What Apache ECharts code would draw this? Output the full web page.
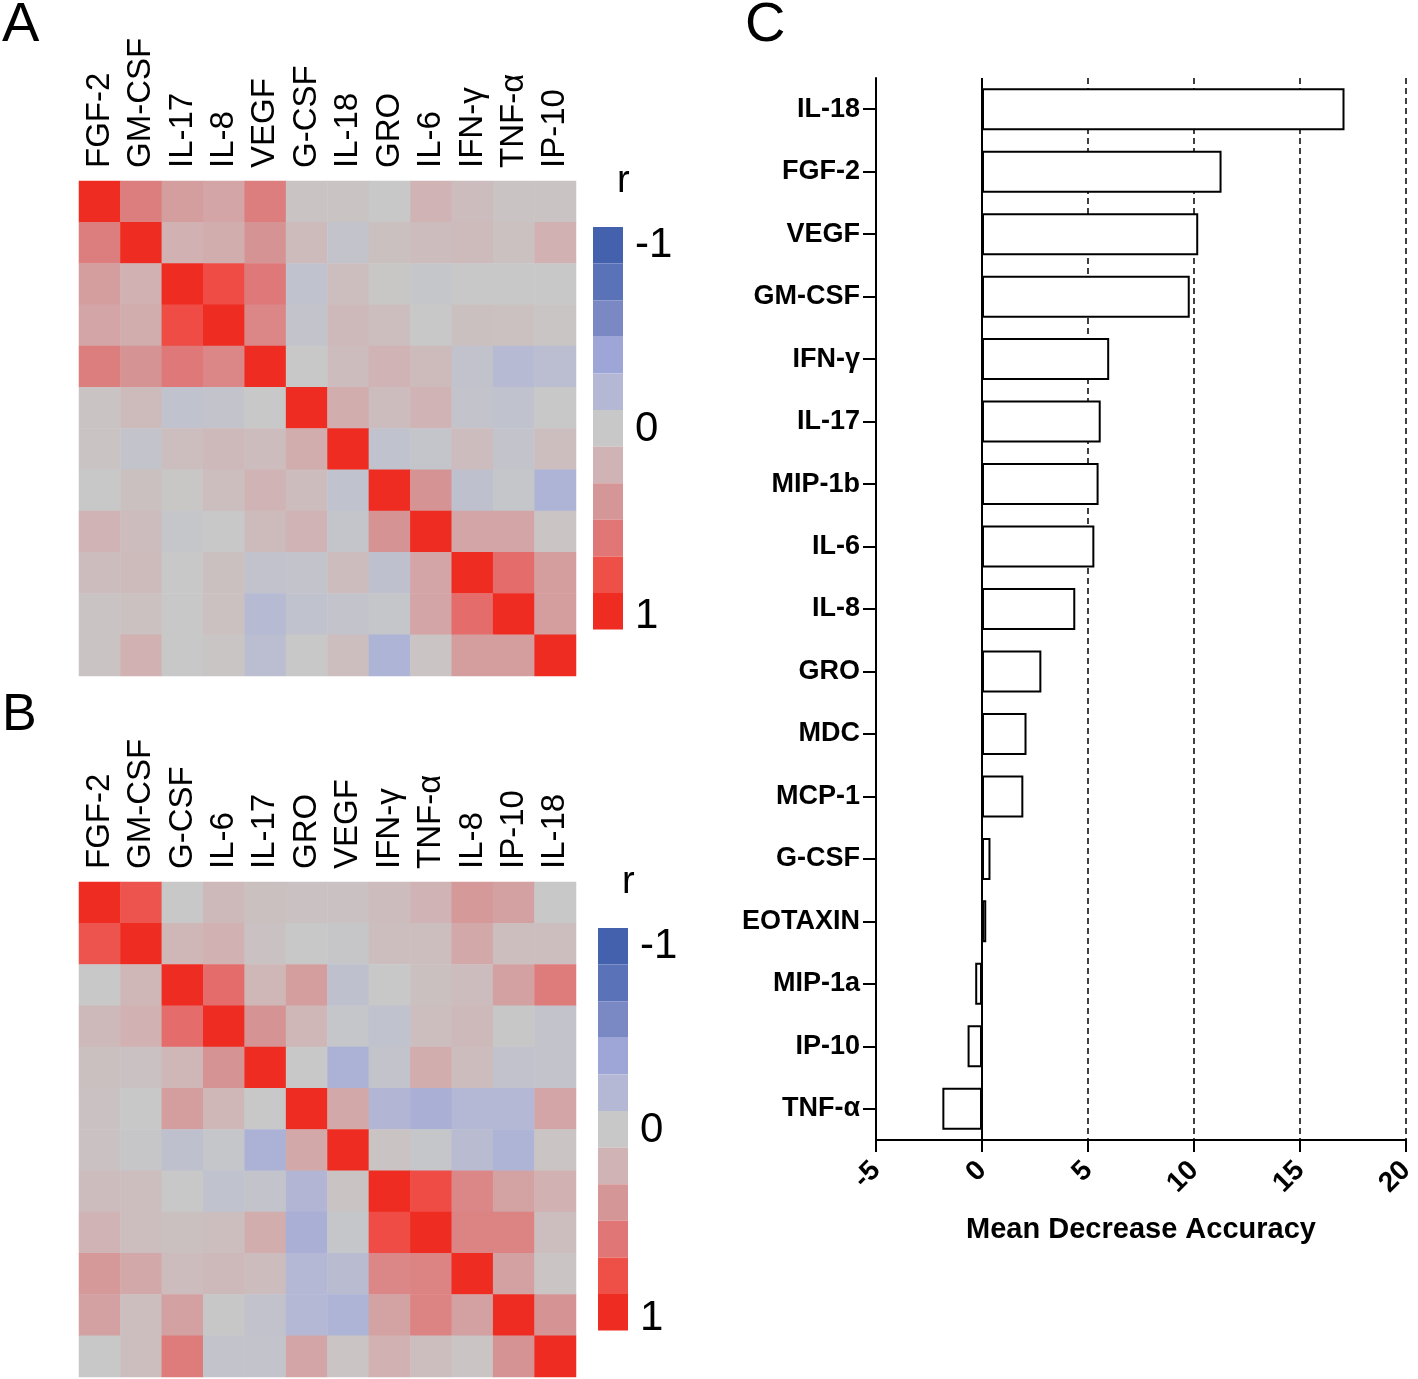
<!DOCTYPE html>
<html>
<head>
<meta charset="utf-8">
<script src="https://cdn.jsdelivr.net/npm/echarts@6/dist/echarts.min.js"></script>
<style>
html,body{margin:0;padding:0;background:#fff;}
#chart{width:1418px;height:1379px;}
</style>
</head>
<body>
<div id="chart"></div>
<script>
// ---------- Data ----------
const labelsA = ['FGF-2','GM-CSF','IL-17','IL-8','VEGF','G-CSF','IL-18','GRO','IL-6','IFN-γ','TNF-α','IP-10'];
const matrixA = [
  [1.00, 0.55, 0.35, 0.30, 0.55, 0.05, 0.05, 0.00, 0.20, 0.12, 0.05, 0.05],
  [0.55, 1.00, 0.22, 0.25, 0.42, 0.13,-0.05, 0.08, 0.12, 0.13, 0.07, 0.22],
  [0.35, 0.22, 1.00, 0.82, 0.58,-0.08, 0.10, 0.02,-0.03, 0.00, 0.00, 0.00],
  [0.30, 0.25, 0.82, 1.00, 0.50,-0.05, 0.15, 0.10, 0.00, 0.08, 0.07, 0.03],
  [0.55, 0.42, 0.58, 0.50, 1.00, 0.00, 0.12, 0.20, 0.13,-0.07,-0.18,-0.13],
  [0.05, 0.13,-0.08,-0.05, 0.00, 1.00, 0.25, 0.12, 0.20,-0.05,-0.08, 0.00],
  [0.05,-0.05, 0.10, 0.15, 0.12, 0.25, 1.00,-0.08,-0.04, 0.12,-0.05, 0.10],
  [0.00, 0.08, 0.02, 0.10, 0.20, 0.12,-0.08, 1.00, 0.42,-0.10,-0.03,-0.25],
  [0.20, 0.12,-0.03, 0.00, 0.13, 0.20,-0.04, 0.42, 1.00, 0.30, 0.30, 0.04],
  [0.12, 0.13, 0.00, 0.08,-0.07,-0.05, 0.12,-0.10, 0.30, 1.00, 0.65, 0.35],
  [0.05, 0.07, 0.00, 0.07,-0.18,-0.08,-0.05,-0.03, 0.30, 0.65, 1.00, 0.35],
  [0.05, 0.22, 0.00, 0.03,-0.13, 0.00, 0.10,-0.25, 0.04, 0.35, 0.35, 1.00]
];
const labelsB = ['FGF-2','GM-CSF','G-CSF','IL-6','IL-17','GRO','VEGF','IFN-γ','TNF-α','IL-8','IP-10','IL-18'];
const matrixB = [
  [1.00, 0.78, 0.00, 0.15, 0.08, 0.06, 0.06, 0.12, 0.20, 0.38, 0.33, 0.00],
  [0.78, 1.00, 0.18, 0.22, 0.06, 0.00,-0.02, 0.10, 0.10, 0.28, 0.10, 0.10],
  [0.00, 0.18, 1.00, 0.65, 0.18, 0.35,-0.10, 0.00, 0.08, 0.12, 0.33, 0.57],
  [0.15, 0.22, 0.65, 1.00, 0.42, 0.18,-0.03,-0.08, 0.10, 0.15, 0.01,-0.05],
  [0.08, 0.06, 0.18, 0.42, 1.00, 0.00,-0.27,-0.05, 0.25, 0.12,-0.07,-0.05],
  [0.06, 0.00, 0.35, 0.18, 0.00, 1.00, 0.28,-0.22,-0.30,-0.20,-0.20, 0.30],
  [0.06,-0.02,-0.10,-0.03,-0.27, 0.28, 1.00, 0.05,-0.03,-0.15,-0.25, 0.04],
  [0.12, 0.10, 0.00,-0.08,-0.05,-0.22, 0.05, 1.00, 0.82, 0.50, 0.32, 0.22],
  [0.20, 0.10, 0.08, 0.10, 0.25,-0.30,-0.03, 0.82, 1.00, 0.52, 0.52, 0.10],
  [0.38, 0.28, 0.12, 0.15, 0.12,-0.20,-0.15, 0.50, 0.52, 1.00, 0.33, 0.04],
  [0.33, 0.10, 0.33, 0.01,-0.07,-0.20,-0.25, 0.32, 0.52, 0.33, 1.00, 0.42],
  [0.00, 0.10, 0.57,-0.05,-0.05, 0.30, 0.04, 0.22, 0.10, 0.04, 0.42, 1.00]
];
const importanceLabels = ['IL-18','FGF-2','VEGF','GM-CSF','IFN-γ','IL-17','MIP-1b','IL-6','IL-8','GRO','MDC','MCP-1','G-CSF','EOTAXIN','MIP-1a','IP-10','TNF-α'];
const importanceValues = [17.1, 11.3, 10.2, 9.8, 6.0, 5.6, 5.5, 5.3, 4.4, 2.8, 2.1, 1.95, 0.4, 0.2, -0.32, -0.68, -1.87];
const xTicksC = [-5, 0, 5, 10, 15, 20];
const scaleValues = [-1,-0.8,-0.6,-0.4,-0.2,0,0.2,0.4,0.6,0.8,1];
const scaleColors = ['#4461AD','#5A72B7','#7A89C4','#9DA6D6','#B4B8D4','#C8C8C8','#D0B4B5','#D59697','#E07676','#EE5048','#EE2C22'];
const scaleTickLabels = ['-1','0','1'];

// ---------- Build ----------
const FONT = '"Liberation Sans", Arial, Helvetica, sans-serif';
function toCells(m){
  const out = [];
  m.forEach((row, r) => row.forEach((v, c) => out.push([c, r, v])));
  return out;
}
const pieces = scaleValues.map((v, i) => ({min: v - 0.1, max: v + 0.1, color: scaleColors[i]}));

const heatX = (labels, gi) => ({
  type:'category', gridIndex:gi, position:'top', data:labels,
  axisLine:{show:false}, axisTick:{show:false}, splitLine:{show:false},
  axisLabel:{rotate:-90, interval:0, fontSize:33, color:'#000', fontFamily:FONT, margin:13}
});
const heatY = (labels, gi) => ({
  type:'category', gridIndex:gi, data:labels, inverse:true,
  axisLine:{show:false}, axisTick:{show:false}, axisLabel:{show:false}, splitLine:{show:false}
});

function legendTexts(x, yTop, yMid, yBot, rX, rY){
  const base = {fontFamily:FONT, fill:'#000'};
  return [
    {type:'text', left:rX, top:rY, style:Object.assign({text:'r', fontSize:38}, base)},
    {type:'text', x:x, y:yTop, style:Object.assign({text:scaleTickLabels[0], fontSize:42, textVerticalAlign:'middle'}, base)},
    {type:'text', x:x, y:yMid, style:Object.assign({text:scaleTickLabels[1], fontSize:42, textVerticalAlign:'middle'}, base)},
    {type:'text', x:x, y:yBot, style:Object.assign({text:scaleTickLabels[2], fontSize:42, textVerticalAlign:'middle'}, base)}
  ];
}

const chart = echarts.init(document.getElementById('chart'), null, {renderer:'canvas'});
const option = {
  backgroundColor:'#fff',
  animation:false,
  grid:[
    {left:79, top:181, width:497, height:495},
    {left:79, top:882, width:497, height:495},
    {left:876, top:78, right:6, bottom:239}
  ],
  xAxis:[
    heatX(labelsA, 0),
    heatX(labelsB, 1),
    {
      type:'value', gridIndex:2, min:-5, max:20, interval:5,
      axisLine:{show:true, lineStyle:{color:'#000', width:2}},
      axisTick:{show:true, length:12, lineStyle:{color:'#000', width:2}},
      axisLabel:{rotate:45, fontSize:28, fontWeight:'bold', color:'#000', fontFamily:FONT, margin:26,
        formatter: v => String(v)},
      splitLine:{show:true, lineStyle:{color:'#000', width:1.5, type:[6,4]}},
      name:'Mean Decrease Accuracy', nameLocation:'middle', nameGap:75,
      nameTextStyle:{fontSize:29, fontWeight:'bold', color:'#000', fontFamily:FONT}
    }
  ],
  yAxis:[
    heatY(labelsA, 0),
    heatY(labelsB, 1),
    {
      type:'category', gridIndex:2, data:importanceLabels, inverse:true,
      axisLine:{show:true, onZero:false, lineStyle:{color:'#000', width:2}},
      axisTick:{show:true, alignWithLabel:true, length:13, lineStyle:{color:'#000', width:2}},
      axisLabel:{fontSize:27, fontWeight:'bold', color:'#000', fontFamily:FONT, margin:16},
      splitLine:{show:false}
    }
  ],
  visualMap:[
    {type:'continuous', min:-1, max:1, seriesIndex:[0,1], show:false, inRange:{color:scaleColors}},
    {type:'piecewise', seriesIndex:[3], pieces:pieces.slice(), inverse:true, itemSymbol:'rect', showLabel:false,
     selectedMode:false, left:593, top:227, itemWidth:30, itemHeight:36.6, itemGap:0, padding:0, orient:'vertical'},
    {type:'piecewise', seriesIndex:[4], pieces:pieces.slice(), inverse:true, itemSymbol:'rect', showLabel:false,
     selectedMode:false, left:598, top:928, itemWidth:30, itemHeight:36.6, itemGap:0, padding:0, orient:'vertical'}
  ],
  series:[
    {type:'heatmap', xAxisIndex:0, yAxisIndex:0, data:toCells(matrixA), emphasis:{disabled:true}, progressive:0},
    {type:'heatmap', xAxisIndex:1, yAxisIndex:1, data:toCells(matrixB), emphasis:{disabled:true}, progressive:0},
    {
      type:'bar', xAxisIndex:2, yAxisIndex:2, data:importanceValues, barWidth:42,
      itemStyle:{color:'#fff', borderColor:'#000', borderWidth:2},
      emphasis:{disabled:true},
      markLine:{silent:true, symbol:'none', label:{show:false},
        lineStyle:{color:'#000', width:2, type:'solid'}, data:[{xAxis:xTicksC[1]}]}
    },
    {type:'heatmap', xAxisIndex:0, yAxisIndex:0, data:[]},
    {type:'heatmap', xAxisIndex:1, yAxisIndex:1, data:[]}
  ],
  graphic:[
    {type:'text', left:2, top:-2, style:{text:'A', fontSize:56, fontFamily:FONT, fill:'#000'}},
    {type:'text', left:2, top:690, style:{text:'B', fontSize:52, fontFamily:FONT, fill:'#000'}},
    {type:'text', left:745, top:-2, style:{text:'C', fontSize:56, fontFamily:FONT, fill:'#000'}}
  ].concat(legendTexts(635, 245, 429, 616, 617, 163))
   .concat(legendTexts(640, 946, 1130, 1318, 622, 864))
};
chart.setOption(option);
</script>
</body>
</html>
